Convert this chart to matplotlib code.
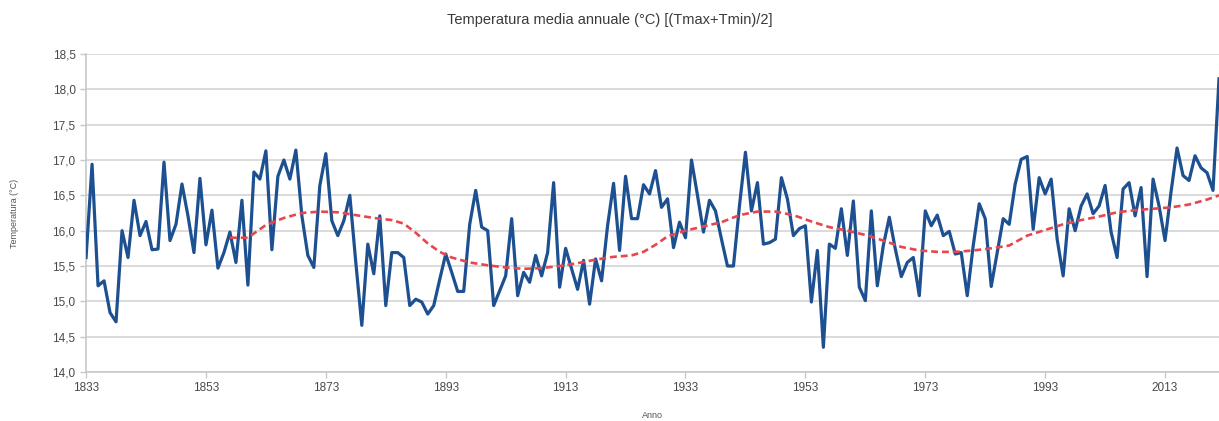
import matplotlib
matplotlib.use("Agg")
import matplotlib.pyplot as plt
from matplotlib.ticker import FuncFormatter

plt.rcParams['font.family'] = ['Liberation Sans', 'DejaVu Sans']

# annual mean temperature, 1833-2022
first_year = 1833
temps = [
    15.62, 16.94, 15.22, 15.29, 14.84, 14.71, 16.00,                      # 1833-1839
    15.62, 16.43, 15.93, 16.13, 15.73, 15.74, 16.97, 15.86, 16.09, 16.66,  # 1840s
    16.21, 15.69, 16.74, 15.80, 16.29, 15.47, 15.69, 15.98, 15.55, 16.43,  # 1850s
    15.23, 16.83, 16.73, 17.13, 15.73, 16.77, 17.00, 16.73, 17.14, 16.21,  # 1860s
    15.65, 15.48, 16.64, 17.09, 16.14, 15.93, 16.14, 16.50, 15.55, 14.66,  # 1870s
    15.81, 15.39, 16.21, 14.94, 15.69, 15.69, 15.62, 14.94, 15.03, 14.99,  # 1880s
    14.82, 14.94, 15.31, 15.67, 15.41, 15.14, 15.14, 16.09, 16.57, 16.05,  # 1890s
    16.00, 14.94, 15.15, 15.36, 16.17, 15.08, 15.41, 15.27, 15.65, 15.36,  # 1900s
    15.69, 16.68, 15.20, 15.75, 15.46, 15.17, 15.58, 14.96, 15.60, 15.29,  # 1910s
    16.07, 16.67, 15.72, 16.77, 16.17, 16.17, 16.65, 16.52, 16.85, 16.33,  # 1920s
    16.45, 15.76, 16.12, 15.90, 17.00, 16.50, 15.98, 16.43, 16.28, 15.88,  # 1930s
    15.50, 15.50, 16.35, 17.11, 16.28, 16.68, 15.81, 15.83, 15.88, 16.75,  # 1940s
    16.45, 15.93, 16.03, 16.07, 14.99, 15.72, 14.35, 15.81, 15.75, 16.31,  # 1950s
    15.65, 16.42, 15.20, 15.01, 16.28, 15.22, 15.79, 16.19, 15.74, 15.35,  # 1960s
    15.55, 15.62, 15.08, 16.28, 16.07, 16.22, 15.93, 15.99, 15.67, 15.69,  # 1970s
    15.08, 15.79, 16.38, 16.17, 15.21, 15.69, 16.17, 16.09, 16.66, 17.01,  # 1980s
    17.05, 16.02, 16.75, 16.52, 16.73, 15.88, 15.36, 16.31, 16.00, 16.35,  # 1990s
    16.52, 16.24, 16.35, 16.64, 15.98, 15.62, 16.59, 16.68, 16.21, 16.61,  # 2000s
    15.35, 16.73, 16.35, 15.86, 16.55, 17.17, 16.78, 16.71, 17.06, 16.89,  # 2010s
    16.82, 16.57, 18.15,                                                  # 2020-2022
]
years = list(range(first_year, first_year + len(temps)))

# smoothed trend (red dashed)
trend_years = [1857, 1860, 1863, 1866, 1869, 1872, 1875, 1878, 1881, 1884,
               1886, 1888, 1890, 1892, 1894, 1897, 1900, 1903, 1906, 1909,
               1912, 1915, 1918, 1921, 1924, 1926, 1928, 1930, 1933, 1936,
               1939, 1942, 1945, 1948, 1951, 1954, 1957, 1960, 1963, 1966,
               1969, 1972, 1975, 1978, 1981, 1984, 1987, 1990, 1993, 1996,
               1999, 2002, 2005, 2008, 2011, 2014, 2017, 2020, 2022]
trend_vals = [15.90, 15.90, 16.08, 16.18, 16.25, 16.27, 16.26, 16.22, 16.18, 16.15,
              16.10, 15.97, 15.82, 15.70, 15.62, 15.55, 15.51, 15.48, 15.46, 15.47,
              15.50, 15.54, 15.59, 15.63, 15.65, 15.70, 15.80, 15.92, 16.00, 16.06,
              16.12, 16.22, 16.27, 16.27, 16.22, 16.13, 16.05, 16.00, 15.94, 15.86,
              15.77, 15.72, 15.70, 15.70, 15.72, 15.75, 15.79, 15.93, 16.01, 16.09,
              16.15, 16.20, 16.26, 16.29, 16.31, 16.33, 16.37, 16.44, 16.50]

x_ticks = list(range(1833, 2014, 20))
y_ticks = [14.0, 14.5, 15.0, 15.5, 16.0, 16.5, 17.0, 17.5, 18.0, 18.5]

fig = plt.figure(figsize=(12.19, 4.21), dpi=100)
ax = fig.add_axes([0.0706, 0.1164, 0.9294, 0.7553])

ax.plot(years, temps, color='#1d5090', lw=2.3, solid_joinstyle='round', zorder=3)
ax.plot(trend_years, trend_vals, color='#e5474d', lw=1.9,
        linestyle=(0, (2.6, 1.5)), zorder=4)

ax.set_xlim(1833, 2022)
ax.set_ylim(14.0, 18.5)
ax.set_xticks(x_ticks)
ax.set_yticks(y_ticks)
ax.yaxis.set_major_formatter(FuncFormatter(lambda v, p: f"{v:.1f}".replace('.', ',')))

ax.grid(axis='y', color='#d8d8d8', lw=1.3)
ax.set_axisbelow(True)
for s in ['top', 'right']:
    ax.spines[s].set_visible(False)
for s in ['left', 'bottom']:
    ax.spines[s].set_color('#c8c8c8')
    ax.spines[s].set_linewidth(1.2)
ax.tick_params(axis='both', colors='#c8c8c8', labelcolor='#4a4a4a',
               labelsize=8.5, length=4, width=1)

ax.set_xlabel('Anno', fontsize=6.5, color='#555555', labelpad=12)
ax.set_ylabel('Temperatura (°C)', fontsize=6.5, color='#555555', labelpad=24)
fig.text(0.5, 0.952, 'Temperatura media annuale (°C) [(Tmax+Tmin)/2]',
         ha='center', va='center', fontsize=10.5, color='#3a3a3a')

fig.savefig('out.png', dpi=100)
